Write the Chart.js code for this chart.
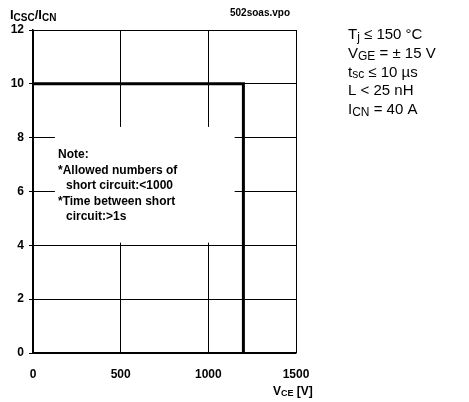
<!DOCTYPE html>
<html>
<head>
<meta charset="utf-8">
<script src="https://cdn.jsdelivr.net/npm/chart.js@4"></script>
<style>
  html, body { margin: 0; padding: 0; background: #fff; }
  #wrap { width: 469px; height: 402px; }
</style>
</head>
<body>
<div id="wrap"><canvas id="soaChart" width="469" height="402"></canvas></div>
<script>
// short circuit SOA curve
var vceValues = [0, 1200, 1200];
var icRatioValues = [10, 10, 0];
var xTicks = [0, 500, 1000, 1500];
var yTicks = [0, 2, 4, 6, 8, 10, 12];
var noteLines = ['Note:', '*Allowed numbers of', '  short circuit:<1000', '*Time between short', '  circuit:>1s'];

var FONT = '"Liberation Sans", Arial, sans-serif';

// draws text made of parts, some of them as subscripts
function drawParts(ctx, x, y, parts, size) {
    parts.forEach(function (p) {
        var s = p.sub ? Math.round(size * 0.78) : size;
        ctx.font = (p.bold ? 'bold ' : '') + s + 'px ' + FONT;
        ctx.fillText(p.t, x, y + (p.sub ? size * 0.12 : 0));
        x += ctx.measureText(p.t).width;
    });
}

var notePlugin = {
    id: 'notes',
    beforeDatasetsDraw: function (chart) {
        var ctx = chart.ctx;
        var xs = chart.scales.x, ys = chart.scales.y;
        ctx.save();
        // white box behind the note, hides the grid
        ctx.fillStyle = '#fff';
        ctx.fillRect(xs.getPixelForValue(125), ys.getPixelForValue(8.4), xs.getPixelForValue(1150) - xs.getPixelForValue(125), ys.getPixelForValue(4.1) - ys.getPixelForValue(8.4));
        ctx.fillStyle = '#000';
        ctx.textBaseline = 'alphabetic';
        ctx.font = 'bold 12px ' + FONT;
        var base = 158;
        noteLines.forEach(function (l, i) {
            var indent = l.indexOf('  ') === 0;
            ctx.fillText(l.trim(), indent ? 66 : 58, base + i * 15.5);
        });
        ctx.restore();
    },
    afterDraw: function (chart) {
        var ctx = chart.ctx;
        ctx.save();
        ctx.fillStyle = '#000';
        ctx.textBaseline = 'alphabetic';
        // y axis title
        drawParts(ctx, 10, 19, [
            {t: 'I', bold: true}, {t: 'CSC', bold: true, sub: true}, {t: '/I', bold: true}, {t: 'CN', bold: true, sub: true}
        ], 13);
        ctx.font = 'bold 10px ' + FONT;
        ctx.fillText('502soas.vpo', 230, 16);
        // x axis title
        drawParts(ctx, 273, 395, [
            {t: 'V', bold: true}, {t: 'CE', bold: true, sub: true}, {t: ' [V]', bold: true}
        ], 12);
        // conditions
        var cx = 348, cy = 39, step = 18.8, fs = 15;
        drawParts(ctx, cx, cy, [{t: 'T'}, {t: 'j', sub: true}, {t: ' \u2264 150 \u00b0C'}], fs);
        drawParts(ctx, cx, cy + step, [{t: 'V'}, {t: 'GE', sub: true}, {t: ' = \u00b1 15 V'}], fs);
        drawParts(ctx, cx, cy + step * 2, [{t: 't'}, {t: 'sc', sub: true}, {t: ' \u2264 10 \u00b5s'}], fs);
        drawParts(ctx, cx, cy + step * 3, [{t: 'L < 25 nH'}], fs);
        drawParts(ctx, cx, cy + step * 4, [{t: 'I'}, {t: 'CN', sub: true}, {t: ' = 40 A'}], fs);
        ctx.restore();
    }
};

var ctx = document.getElementById('soaChart').getContext('2d');
var soaChart = new Chart(ctx, {
    type: 'scatter',
    data: {
        datasets: [{
            data: vceValues.map(function (v, i) { return {x: v, y: icRatioValues[i]}; }),
            showLine: true,
            borderColor: '#000',
            borderWidth: 3,
            pointRadius: 0,
            fill: false
        }]
    },
    options: {
        responsive: false,
        animation: false,
        layout: { padding: { left: 0, top: 30, right: 173, bottom: 0 } },
        plugins: { legend: { display: false }, tooltip: { enabled: false } },
        scales: {
            x: {
                type: 'linear', min: 0, max: 1500,
                afterBuildTicks: function (s) { s.ticks = xTicks.map(function (v) { return {value: v}; }); },
                afterFit: function (s) { s.height = 49; },
                grid: { color: '#000', lineWidth: 1, drawTicks: false },
                border: { color: '#000', width: 1.5 },
                ticks: { color: '#000', padding: 14, font: { family: FONT, size: 12, weight: 'bold' },
                    callback: function (v) { return String(v); } }
            },
            y: {
                type: 'linear', min: 0, max: 12,
                afterBuildTicks: function (s) { s.ticks = yTicks.map(function (v) { return {value: v}; }); },
                afterFit: function (s) { s.width = 33; },
                grid: { color: '#000', lineWidth: 1, tickLength: 4 },
                border: { color: '#000', width: 1.5 },
                ticks: { color: '#000', padding: 5, font: { family: FONT, size: 12, weight: 'bold' },
                    callback: function (v) { return String(v); } }
            }
        }
    },
    plugins: [notePlugin]
});
</script>
</body>
</html>
